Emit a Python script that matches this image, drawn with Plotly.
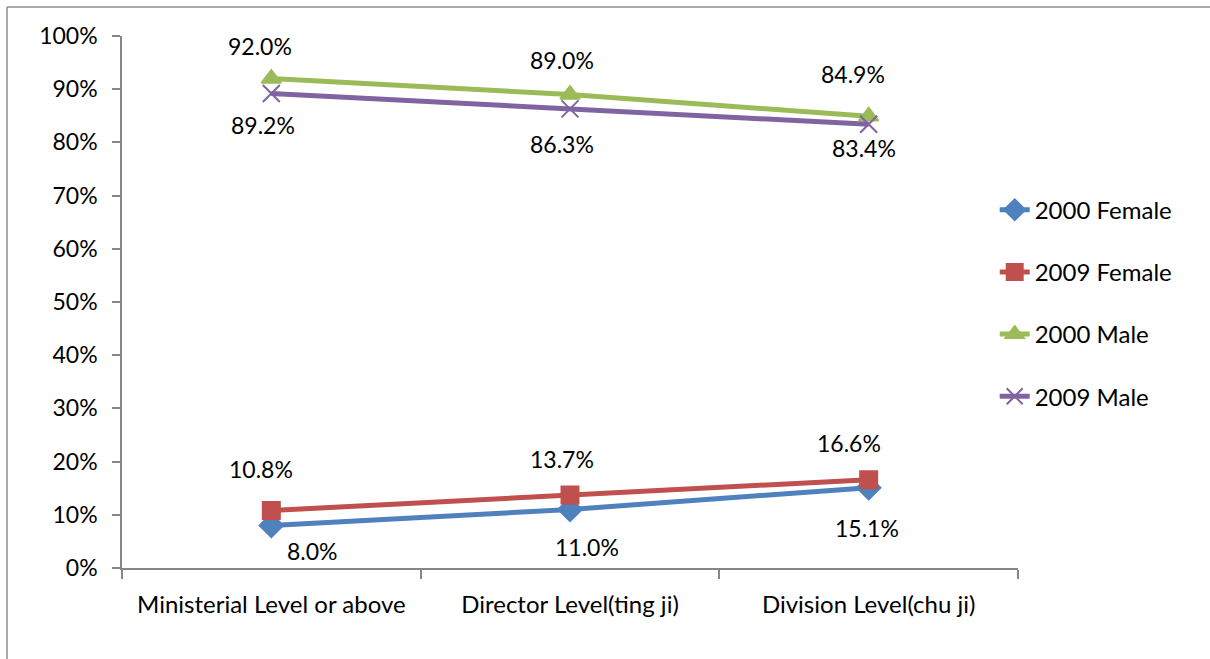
import plotly.graph_objects as go

# Share of officials by administrative level and sex
categories = ["Ministerial Level or above", "Director Level(ting ji)", "Division Level(chu ji)"]
female_2000 = [8.0, 11.0, 15.1]
female_2009 = [10.8, 13.7, 16.6]
male_2000 = [92.0, 89.0, 84.9]
male_2009 = [89.2, 86.3, 83.4]
y_ticks = [0, 10, 20, 30, 40, 50, 60, 70, 80, 90, 100]

FONT = "Lato"
TEXT_SIZE = 24
NUM_SIZE = 23

# Pixel offsets (dx, dy) of each value label from its point, per category
label_offsets = {
    "2000 Female": [(41, -26), (17, -38), (-2, -40)],
    "2009 Female": [(-10, 42), (-8, 36), (-20, 37)],
    "2000 Male": [(-11, 33), (-8, 35), (-16, 42)],
    "2009 Male": [(-8, -32), (-8, -35), (-5, -24)],
}

series = [
    ("2000 Female", female_2000, "#4F81BD", "diamond", 18),
    ("2009 Female", female_2009, "#C0504D", "square", 17),
    ("2000 Male", male_2000, "#9BBB59", "triangle-up", 17),
    ("2009 Male", male_2009, "#8064A2", "x-thin-open", 17),
]

fig = go.Figure()
annotations = []
for i, (name, vals, color, symbol, msize) in enumerate(series):
    yvals = [v / 100 for v in vals]
    fig.add_trace(go.Scatter(
        x=categories, y=yvals, name=name, mode="lines+markers",
        legendgroup=f"g{i}",
        line=dict(color=color, width=5),
        marker=dict(symbol=symbol, size=msize, color=color,
                    line=dict(color=color, width=2)),
        hoverinfo="skip",
    ))
    for c, v, yv, (dx, dy) in zip(categories, vals, yvals, label_offsets[name]):
        annotations.append(dict(
            x=c, y=yv, xref="x", yref="y", text=f"{v:.1f}%", showarrow=False,
            font=dict(family=FONT, size=NUM_SIZE, color="black"),
            xshift=dx, yshift=dy,
        ))

fig.update_layout(
    width=1210, height=659,
    margin=dict(l=122, r=192, t=36, b=91),
    paper_bgcolor="white", plot_bgcolor="white",
    font=dict(family=FONT, size=TEXT_SIZE, color="black"),
    annotations=annotations,
    legend=dict(
        x=0.974, y=0.715, xanchor="left", yanchor="top",
        font=dict(family=FONT, size=TEXT_SIZE, color="black"),
        tracegroupgap=28, bgcolor="rgba(0,0,0,0)",
    ),
    xaxis=dict(
        range=[-0.5, 2.5],
        showgrid=False, showline=True, linecolor="#868686", linewidth=1.5,
        ticks="outside", tickson="boundaries", ticklen=9, tickcolor="#868686",
        tickwidth=1.5, ticklabelstandoff=14, zeroline=False,
        tickfont=dict(family=FONT, size=TEXT_SIZE, color="black"),
    ),
    yaxis=dict(
        range=[0, 1], tickvals=[t / 100 for t in y_ticks],
        ticktext=[f"{t}%" for t in y_ticks],
        showgrid=False, showline=True, linecolor="#868686", linewidth=1.5,
        ticks="outside", ticklen=8, tickcolor="#868686", tickwidth=1.5,
        ticklabelstandoff=10, zeroline=False,
        tickfont=dict(family=FONT, size=NUM_SIZE, color="black"),
    ),
    shapes=[
        # chart-area frame: top and left edges
        dict(type="line", xref="paper", yref="paper",
             x0=(7 - 122) / 896, x1=1.3, y0=(568 - 7) / 532, y1=(568 - 7) / 532,
             line=dict(color="#8C8C8C", width=1.5), layer="below"),
        dict(type="line", xref="paper", yref="paper",
             x0=(7 - 122) / 896, x1=(7 - 122) / 896, y0=-0.3, y1=(568 - 7) / 532,
             line=dict(color="#8C8C8C", width=1.5), layer="below"),
    ],
)

fig.write_html("out.html")
